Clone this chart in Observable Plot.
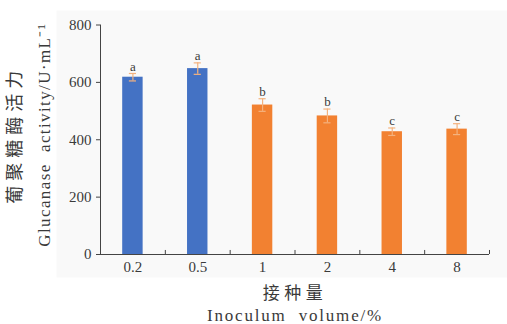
<!DOCTYPE html>
<html>
<head>
<meta charset="utf-8">
<script src="https://cdn.jsdelivr.net/npm/d3@7"></script>
<script src="https://cdn.jsdelivr.net/npm/@observablehq/plot@0.6"></script>
<style>
  html, body { margin: 0; padding: 0; background: #ffffff; }
  #chart svg { display: block; }
</style>
</head>
<body>
<div id="chart"></div>
<script>
// Inoculum volume groups and measured glucanase activity (U/mL)
const categories = ["0.2", "0.5", "1", "2", "4", "8"];
const activity = [618, 648, 521, 483, 428, 437];
const errors = [13, 20, 22, 24, 13, 19];
const letters = ["a", "a", "b", "b", "c", "c"];
const groups = ["low", "low", "high", "high", "high", "high"];
const yTicks = [0, 200, 400, 600, 800];

const yTitleCN = "葡聚糖酶活力";
const yTitleEN = "Glucanase  activity/U·mL⁻¹";
const xTitleCN = "接种量";
const xTitleEN = "Inoculum  volume/%";

const data = categories.map((c, i) => ({
  i, c, v: activity[i], e: errors[i], l: letters[i], g: groups[i]
}));

const SERIF = "Liberation Serif";
const CJK = "Noto Sans CJK SC";
const ink = "#3a3a3a";
const errColor = "#f4b27e";

const chart = Plot.plot({
  width: 507,
  height: 324,
  marginLeft: 100,
  marginRight: 18,
  marginTop: 24.5,
  marginBottom: 70,
  style: { fontFamily: SERIF, fontSize: "15px", color: ink, overflow: "visible" },
  x: { domain: [0, categories.length] },
  y: { domain: [0, 800] },
  color: { domain: ["low", "high"], range: ["#4472c4", "#f28131"] },
  marks: [
    // light plotting panel
    Plot.frame({ fill: "#f9f9f9", stroke: null, insetLeft: -44, insetTop: -14.5, insetRight: -18, insetBottom: -23 }),
    // bars
    Plot.rect(data, { x1: d => d.i, x2: d => d.i + 1, y1: 0, y2: "v", fill: "g", insetLeft: 22.2, insetRight: 22.2 }),
    // error bars
    Plot.ruleX(data, { x: d => d.i + 0.5, y1: d => d.v - d.e, y2: d => d.v + d.e, stroke: errColor, strokeWidth: 1.2 }),
    Plot.ruleY(data, { y: d => d.v + d.e, x1: d => d.i + 0.445, x2: d => d.i + 0.555, stroke: errColor, strokeWidth: 1.2 }),
    Plot.ruleY(data, { y: d => d.v - d.e, x1: d => d.i + 0.445, x2: d => d.i + 0.555, stroke: errColor, strokeWidth: 1.2 }),
    // significance letters
    Plot.text(data, { x: d => d.i + 0.5, y: d => d.v + d.e, text: "l", dy: -7, fontSize: 13, fill: ink, fontFamily: SERIF }),
    // axes
    Plot.ruleX([0], { y1: 0, y2: 800, stroke: "#444" }),
    Plot.ruleY([0], { x1: 0, x2: categories.length, stroke: "#444" }),
    Plot.ruleX(d3.range(1, categories.length + 1), { y1: 0, y2: 14, stroke: "#444" }),
    Plot.axisY({ ticks: yTicks, tickSize: 4, tickPadding: 5, fontSize: 15, fontFamily: SERIF, stroke: "#444", label: null }),
    Plot.axisX({
      ticks: categories.map((c, i) => i + 0.5),
      tickFormat: t => categories[Math.round(t - 0.5)],
      tickSize: 0, tickPadding: 7, fontSize: 15, fontFamily: SERIF, label: null
    }),
    // axis titles
    Plot.text([yTitleCN], { frameAnchor: "left", textAnchor: "middle", dx: -85, dy: -5, rotate: -90, fontSize: 18, fontFamily: CJK, fill: ink }),
    Plot.text([yTitleEN], { frameAnchor: "left", textAnchor: "middle", dx: -56, dy: -5, rotate: -90, fontSize: 17, fontFamily: SERIF, fill: ink }),
    Plot.text([xTitleCN], { frameAnchor: "bottom", textAnchor: "middle", dy: 44, fontSize: 17, fontFamily: CJK, fill: ink }),
    Plot.text([xTitleEN], { frameAnchor: "bottom", textAnchor: "middle", dy: 66, fontSize: 17, fontFamily: SERIF, fill: ink })
  ]
});

// explicit faces on every label, plus tracking on the axis titles
const tracking = new Map([[yTitleCN, 5], [yTitleEN, 1.4], [xTitleCN, 4.5], [xTitleEN, 1.8]]);
chart.querySelectorAll("text").forEach(t => {
  const s = t.textContent;
  const isCJK = /[\u4e00-\u9fff]/.test(s);
  t.style.setProperty("font-family", isCJK ? `"${CJK}", sans-serif` : `"${SERIF}", serif`, "important");
  if (tracking.has(s)) t.style.letterSpacing = tracking.get(s) + "px";
});

document.getElementById("chart").appendChild(chart);
</script>
</body>
</html>
